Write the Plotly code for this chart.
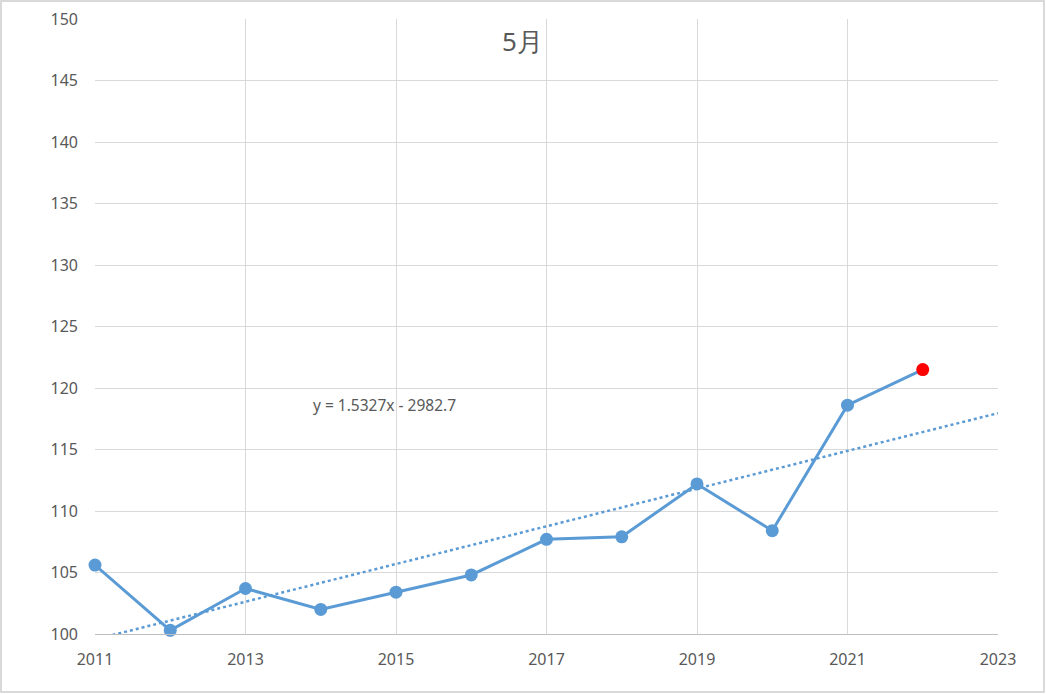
import plotly.graph_objects as go

# data
years = [2011, 2012, 2013, 2014, 2015, 2016, 2017, 2018, 2019, 2020, 2021, 2022]
values = [105.6, 100.3, 103.7, 102.0, 103.4, 104.8, 107.7, 107.9, 112.2, 108.4, 118.6, 121.5]

# trendline as shown in the chart label
slope = 1.5327
intercept = -2982.7
trend_x = [2011, 2023]
trend_y = [slope * x + intercept for x in trend_x]

blue = "#5b9bd5"
grey_text = "#595959"

# last point highlighted in red
marker_colors = [blue] * (len(values) - 1) + ["#ff0000"]

fig = go.Figure()

fig.add_trace(go.Scatter(
    x=trend_x,
    y=trend_y,
    mode="lines",
    line=dict(color=blue, width=2.5, dash="dot"),
    hoverinfo="skip",
    showlegend=False
))

fig.add_trace(go.Scatter(
    x=years,
    y=values,
    mode="lines+markers",
    line=dict(color=blue, width=3),
    marker=dict(color=marker_colors, size=13),
    cliponaxis=False,
    showlegend=False
))

fig.update_layout(
    width=1046,
    height=694,
    margin=dict(l=95, r=48, t=19, b=60),
    plot_bgcolor="white",
    paper_bgcolor="white",
    font=dict(family="Noto Sans", color=grey_text, size=16),
    xaxis=dict(
        range=[2011, 2023],
        dtick=2,
        tick0=2011,
        showgrid=True,
        gridcolor="#d9d9d9",
        showline=True,
        linecolor="#bfbfbf",
        zeroline=False,
        ticks="",
        ticklabelstandoff=11,
        automargin=False,
    ),
    yaxis=dict(
        range=[100, 150],
        dtick=5,
        showgrid=True,
        gridcolor="#d9d9d9",
        showline=False,
        zeroline=False,
        ticks="",
        ticklabelstandoff=16,
        automargin=False,
    ),
    annotations=[
        dict(text="5月", xref="paper", yref="paper", x=0.4729, y=0.964,
             xanchor="center", yanchor="middle",
             showarrow=False, font=dict(size=26, color=grey_text)),
        dict(text="y = 1.5327x - 2982.7", x=2014.85, y=118.6,
             showarrow=False, font=dict(size=15.5, color=grey_text)),
    ],
    shapes=[
        dict(type="rect", xref="paper", yref="paper",
             x0=-0.1041, x1=1.0509, y0=-0.0943, y1=1.0293,
             line=dict(color="#d9d9d9", width=2)),
    ],
)

# drop the default page margin so the figure sits at the window corner
fig.write_html("out.html", config={"displayModeBar": False},
               post_script="document.body.style.margin='0';")
